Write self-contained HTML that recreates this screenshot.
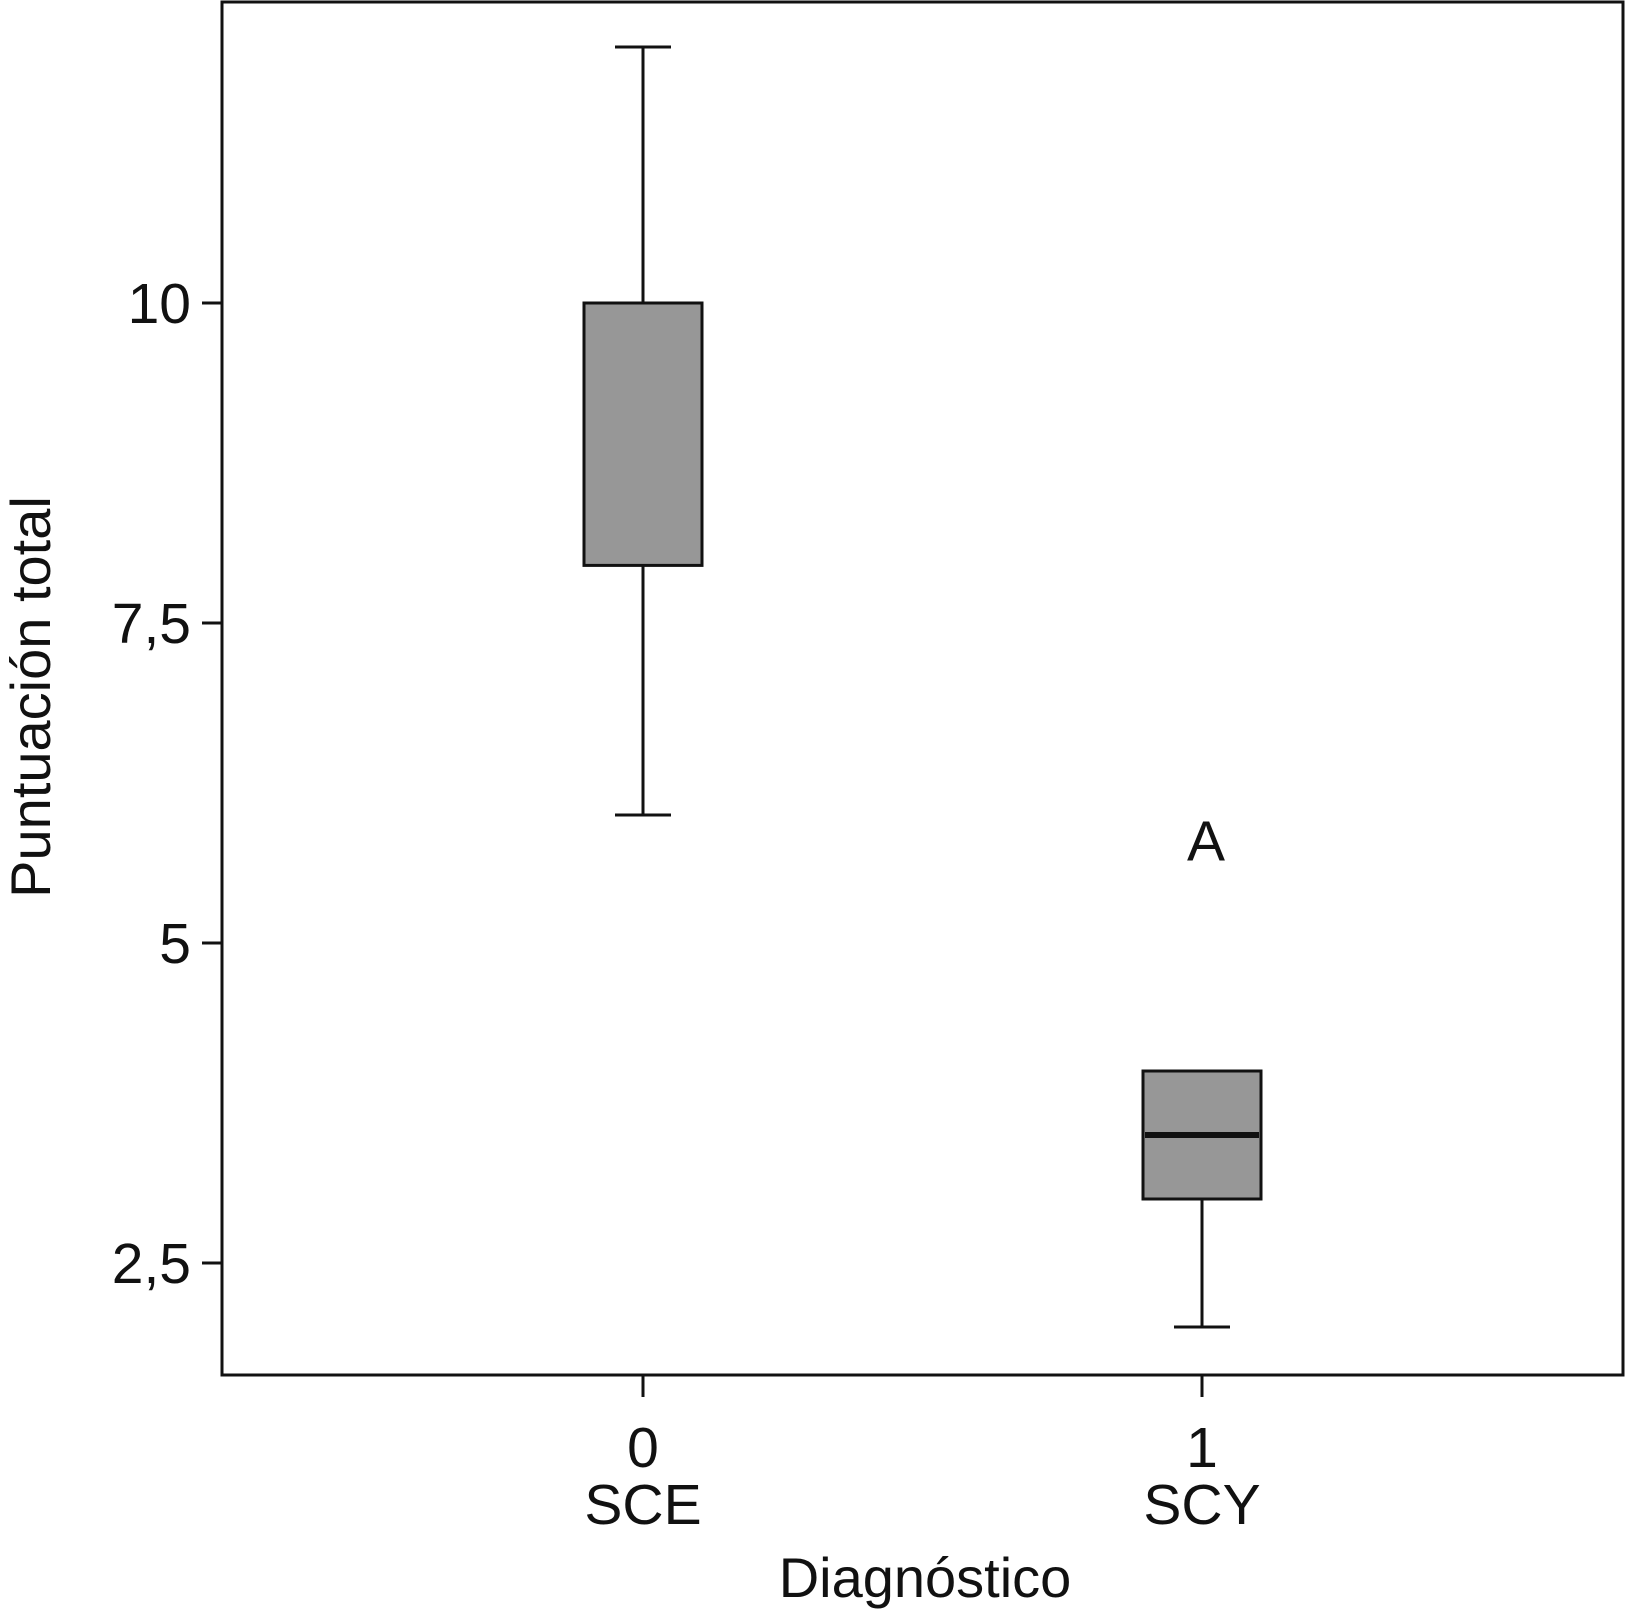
<!DOCTYPE html>
<html><head><meta charset="utf-8"><style>
html,body{margin:0;padding:0;background:#fff;}
svg{display:block;font-family:"Liberation Sans",Arial,sans-serif;}
</style></head><body>
<svg id="chart" width="1626" height="1614" viewBox="0 0 1626 1614">
<g id="plot"></g>
</svg>
<script>
const categories = ["0", "1"];
const groupNames = ["SCE", "SCY"];
const whiskerHigh = [12, 4];
const q3Values = [10, 4];
const medianValues = [null, 3.5];
const q1Values = [7.95, 3];
const whiskerLow = [6, 2];
const outlierLabels = ["A"];
const outlierValues = [5.8];
const outlierGroup = [1];
const yTicks = [2.5, 5, 7.5, 10];
const yTickLabels = ["2,5", "5", "7,5", "10"];

const L = 222, R = 1623, T = 2, B = 1375;
const y = v => 303 + (10 - v) * 128;
const xc = [643, 1202];
const x = i => xc[i];
const halfW = 59, capHalf = 28;
const NS = "http://www.w3.org/2000/svg";
const g = document.getElementById('plot');
function el(tag, attrs, parent) {
  const e = document.createElementNS(NS, tag);
  for (const k in attrs) e.setAttribute(k, attrs[k]);
  (parent || g).appendChild(e);
  return e;
}
let f = el('rect', {x: L, y: T, width: R - L, height: B - T, fill: 'none', stroke: '#111', 'stroke-width': 3});


yTicks.forEach((v, i) => {
  const t = el('line', {x1: L - 20, x2: L, y1: y(v), y2: y(v), stroke: '#111', 'stroke-width': 3});
  
  
  const tx = el('text', {x: 191, y: y(v) + 20, 'text-anchor': 'end', 'font-size': 57, fill: '#111'});
  tx.textContent = yTickLabels[i];
  
  
});
categories.forEach((c, i) => {
  const t = el('line', {x1: x(i), x2: x(i), y1: B, y2: B + 22, stroke: '#111', 'stroke-width': 3});
  
  
  const a = el('text', {x: x(i), y: 1467, 'text-anchor': 'middle', 'font-size': 57, fill: '#111'});
  a.textContent = c;
  
  
  const b = el('text', {x: x(i), y: 1524, 'text-anchor': 'middle', 'font-size': 57, fill: '#111'});
  b.textContent = groupNames[i];
  
  
});
categories.forEach((c, i) => {
  const stem1 = el('line', {x1: x(i), x2: x(i), y1: y(whiskerHigh[i]), y2: y(q3Values[i]), stroke: '#111', 'stroke-width': 3});
  
  
  const stem2 = el('line', {x1: x(i), x2: x(i), y1: y(q1Values[i]), y2: y(whiskerLow[i]), stroke: '#111', 'stroke-width': 3});
  
  
  if (whiskerHigh[i] > q3Values[i]) {
    const c1 = el('line', {x1: x(i) - capHalf, x2: x(i) + capHalf, y1: y(whiskerHigh[i]), y2: y(whiskerHigh[i]), stroke: '#111', 'stroke-width': 3});
    
    
  }
  const c2 = el('line', {x1: x(i) - capHalf, x2: x(i) + capHalf, y1: y(whiskerLow[i]), y2: y(whiskerLow[i]), stroke: '#111', 'stroke-width': 3});
  
  
  const box = el('rect', {x: x(i) - halfW, y: y(q3Values[i]), width: 2 * halfW, height: y(q1Values[i]) - y(q3Values[i]), fill: '#979797', stroke: '#111', 'stroke-width': 3});
  
  
  if (medianValues[i] !== null) {
    const m = el('line', {x1: x(i) - halfW + 2, x2: x(i) + halfW - 2, y1: y(medianValues[i]), y2: y(medianValues[i]), stroke: '#111', 'stroke-width': 6});
    
    
  }
});
outlierLabels.forEach((lab, k) => {
  const o = el('text', {x: x(outlierGroup[k]) + 4, y: y(outlierValues[k]) + 20, 'text-anchor': 'middle', 'font-size': 57, fill: '#111'});
  o.textContent = lab;
  
  
});
const xt = el('text', {x: 925, y: 1597, 'text-anchor': 'middle', 'font-size': 56, fill: '#111'});
xt.textContent = 'Diagnóstico';


const yt = el('text', {x: 0, y: 0, 'text-anchor': 'middle', 'font-size': 56, fill: '#111', transform: 'translate(50,697) rotate(-90)'});
yt.textContent = 'Puntuación total';


</script>
</body></html>
